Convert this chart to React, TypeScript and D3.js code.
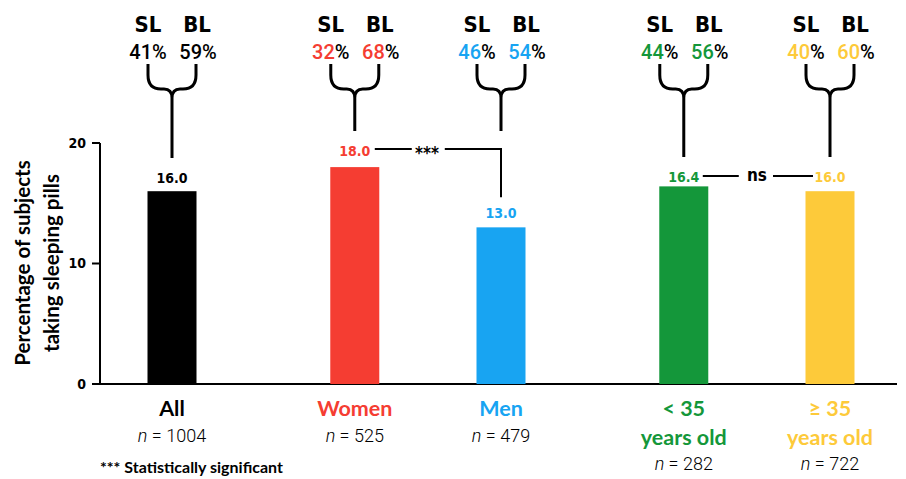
import React from "react";
import * as d3 from "d3";

const categories = ["All", "Women", "Men", "< 35", "≥ 35"];
const subLabels = ["", "", "", "years old", "years old"];
const values = [16.0, 18.0, 13.0, 16.4, 16.0];
const slPct = [41, 32, 46, 44, 40];
const blPct = [59, 68, 54, 56, 60];
const nCounts = [1004, 525, 479, 282, 722];
const groups = [0, 1, 1, 2, 2];
const colors = ["#000000", "#f53d32", "#18a4f2", "#14973a", "#fdca3a"];
const yTicks = [0, 10, 20];

const W = 906;
const H = 479;

export default function App() {
  const slot = (i: number) => i + 0.25 * groups[i];
  const x = d3.scaleLinear().domain([0, 4.5]).range([172, 830]);
  const y = d3.scaleLinear().domain([0, 20]).range([384, 143]);
  const barW = 49;
  const numFont = "'DejaVu Sans Condensed', 'DejaVu Sans', sans-serif";
  const pctFont = "Roboto, 'Noto Sans', sans-serif";
  const labFont = "Lato, 'Open Sans', sans-serif";

  const cx = categories.map((_, i) => x(slot(i)));
  const labelY = [178, 151, 213, 177, 177];
  const stemEnd = [158, 131, 131, 157, 157];

  const brace = (c: number, end: number) => {
    const xl = c - 24, xr = c + 24;
    const p = d3.path();
    p.moveTo(xl, 64);
    p.lineTo(xl, 75);
    p.quadraticCurveTo(xl, 89, xl + 13, 89);
    p.lineTo(c - 8, 89);
    p.quadraticCurveTo(c, 89, c, 98);
    p.lineTo(c, end);
    p.moveTo(xr, 64);
    p.lineTo(xr, 75);
    p.quadraticCurveTo(xr, 89, xr - 13, 89);
    p.lineTo(c + 8, 89);
    p.quadraticCurveTo(c, 89, c, 98);
    return p.toString();
  };

  const sigY = 149;
  const nsY = 176;

  return (
    <svg width={W} height={H} style={{ display: "block", position: "absolute", left: 0, top: 0 }}>
      <rect width={W} height={H} fill="#fff" />
      {/* y axis */}
      <line x1={100} x2={100} y1={y(20)} y2={y(0)} stroke="#000" strokeWidth={2} />
      <line x1={92} x2={897} y1={y(0)} y2={y(0)} stroke="#000" strokeWidth={2} />
      {yTicks.map((t) => (
        <g key={t}>
          <line x1={92} x2={100} y1={y(t)} y2={y(t)} stroke="#000" strokeWidth={2} />
          <text x={86} y={y(t)} dy="0.35em" textAnchor="end" fontFamily={numFont} fontWeight="bold" fontSize={14}>
            {t}
          </text>
        </g>
      ))}
      <text
        transform={`translate(23,${263}) rotate(-90)`}
        textAnchor="middle"
        fontFamily={labFont}
        fontWeight="bold"
        fontSize={20.5}
        dy="0.35em"
      >
        Percentage of subjects
      </text>
      <text
        transform={`translate(52,${263}) rotate(-90)`}
        textAnchor="middle"
        fontFamily={labFont}
        fontWeight="bold"
        fontSize={20.5}
        dy="0.35em"
      >
        taking sleeping pills
      </text>

      {/* bars */}
      {values.map((v, i) => (
        <g key={i}>
          <rect x={cx[i] - barW / 2} y={y(v)} width={barW} height={y(0) - y(v)} fill={colors[i]} />
          <text
            x={cx[i]}
            y={labelY[i]}
            dy="0.35em"
            textAnchor="middle"
            fontFamily={numFont}
            fontWeight="bold"
            fontSize={14}
            fill={colors[i]}
          >
            {v.toFixed(1)}
          </text>
          {/* header */}
          <text x={cx[i] - 24} y={24} dy="0.36em" textAnchor="middle" fontFamily={numFont} fontWeight="bold" fontSize={22}>
            SL
          </text>
          <text x={cx[i] + 25} y={24} dy="0.36em" textAnchor="middle" fontFamily={numFont} fontWeight="bold" fontSize={22}>
            BL
          </text>
          <text x={cx[i] - 24} y={52} dy="0.36em" textAnchor="middle" fontFamily={pctFont} fontWeight={500} fontSize={20}>
            <tspan fill={colors[i]}>{slPct[i]}</tspan>
            <tspan fill="#000">%</tspan>
          </text>
          <text x={cx[i] + 26} y={52} dy="0.36em" textAnchor="middle" fontFamily={pctFont} fontWeight={500} fontSize={20}>
            <tspan fill={colors[i]}>{blPct[i]}</tspan>
            <tspan fill="#000">%</tspan>
          </text>
          <path d={brace(cx[i], stemEnd[i])} fill="none" stroke="#000" strokeWidth={3} />
          {/* category labels */}
          <text x={cx[i]} y={408} dy="0.35em" textAnchor="middle" fontFamily={labFont} fontWeight="bold" fontSize={21.5} fill={colors[i]}>
            {categories[i]}
          </text>
          {subLabels[i] ? (
            <text x={cx[i]} y={437} dy="0.35em" textAnchor="middle" fontFamily={labFont} fontWeight="bold" fontSize={21.5} fill={colors[i]}>
              {subLabels[i]}
            </text>
          ) : null}
          <text
            x={cx[i]}
            y={subLabels[i] ? 464 : 436}
            dy="0.35em"
            textAnchor="middle"
            fontFamily={pctFont}
            fontWeight={300}
            fontSize={18}
            fill="#000"
          >
            <tspan fontStyle="italic">n</tspan> = {nCounts[i]}
          </text>
        </g>
      ))}

      {/* significance Women vs Men */}
      <line x1={cx[1] + 20} x2={cx[1] + 57} y1={sigY} y2={sigY} stroke="#000" strokeWidth={2} />
      <text x={(cx[1] + cx[2]) / 2 - 1} y={sigY + 4} dy="0.35em" textAnchor="middle" fontFamily={numFont} fontWeight="bold" fontSize={17}>
        ***
      </text>
      <path
        d={`M${cx[1] + 90},${sigY} H${cx[2]} V${y(values[2]) - 30}`}
        fill="none"
        stroke="#000"
        strokeWidth={2}
      />

      {/* ns <35 vs >=35 */}
      <line x1={cx[3] + 19} x2={cx[3] + 55} y1={nsY} y2={nsY} stroke="#000" strokeWidth={2} />
      <text x={(cx[3] + cx[4]) / 2} y={nsY} dy="0.3em" textAnchor="middle" fontFamily={numFont} fontWeight="bold" fontSize={17}>
        ns
      </text>
      <line x1={cx[4] - 57} x2={cx[4] - 17} y1={nsY} y2={nsY} stroke="#000" strokeWidth={2} />

      <text x={100} y={467} dy="0.35em" fontFamily={labFont} fontWeight="bold" fontSize={16}>
        *** Statistically significant
      </text>
    </svg>
  );
}
